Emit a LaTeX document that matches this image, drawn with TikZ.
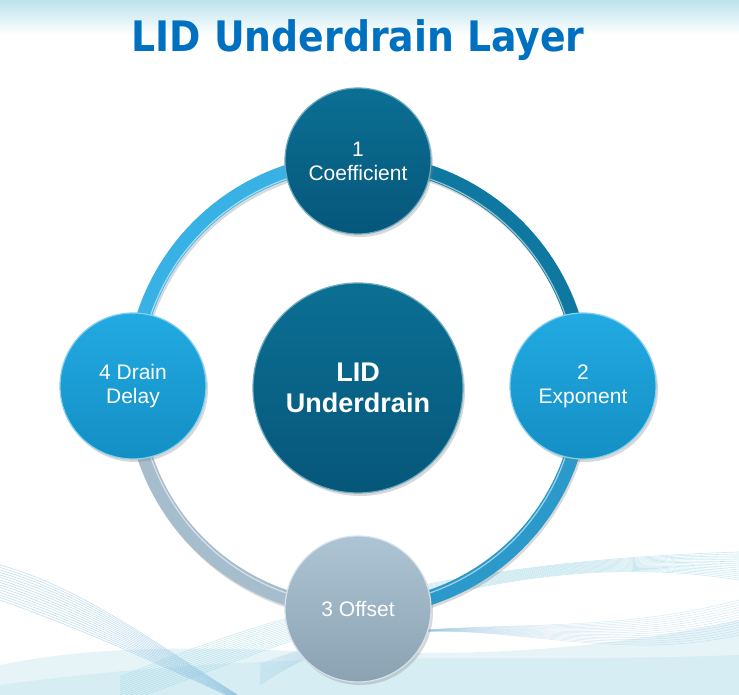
\documentclass[tikz,border=0pt]{standalone}
\usepackage{fontspec}
\setmainfont{Liberation Sans}
\newfontfamily\titlefont{DejaVu Sans Condensed}
\usetikzlibrary{shadows}

\definecolor{titleblue}{HTML}{0070C0}
\definecolor{tealtop}{HTML}{0B6F94}
\definecolor{tealbot}{HTML}{06577A}
\definecolor{skytop}{HTML}{22AAE2}
\definecolor{skybot}{HTML}{138FC4}
\definecolor{greytop}{HTML}{ADC4D4}
\definecolor{greybot}{HTML}{8BA2B3}
\definecolor{wavea}{HTML}{7FB8DE}
\definecolor{waveb}{HTML}{8FD0E0}

\pgfdeclarelayer{bg}
\pgfdeclarelayer{ring}
\pgfsetlayers{bg,ring,main}

\def\ringr{225}
\def\satsize{146}

\tikzset{
  sat/.style={circle, minimum size=\satsize, inner sep=0, align=center,
    text=white, font=\fontsize{21}{24}\selectfont,
    line width=1.2, drop shadow={opacity=0.3, shadow xshift=2, shadow yshift=-3}},
  tealball/.style={sat, top color=tealtop, bottom color=tealbot, draw=tealtop!60!white},
  skyball/.style={sat, top color=skytop, bottom color=skybot, draw=skytop!55!white},
  greyball/.style={sat, top color=greytop, bottom color=greybot, draw=greytop!50!white},
  ringarc/.style={line width=15, line cap=butt},
  ringshade/.style={line width=15, line cap=butt, draw=black, opacity=0.15,
    transform canvas={xshift=1.5, yshift=-2.5}},
}

\begin{document}
\begin{tikzpicture}[x=1pt, y=1pt]
  \useasboundingbox (0,0) rectangle (739,695);

  % background: top band and waves
  \begin{pgfonlayer}{bg}
    \fill[white] (0,0) rectangle (739,695);
    \shade[top color=waveb!60!white, bottom color=white] (0,660) rectangle (739,695);
    \begin{scope}
      \clip (0,0) rectangle (739,695);
      \fill[waveb, opacity=0.22] (0,0) -- (0,30) .. controls (220,75) and (420,5) .. (739,75) -- (739,0) -- cycle;
      \fill[waveb, opacity=0.18] (0,0) -- (0,10) .. controls (300,50) and (480,30) .. (739,40) -- (739,0) -- cycle;
      \foreach \i in {0,...,14}{
        \draw[wavea, opacity=0.45, line width=0.6]
          (0, 130-2.5*\i) .. controls (90, 105-3*\i) and (170, 40-\i) .. (270, -20);
        \draw[waveb, opacity=0.45, line width=0.6]
          (120, -10+2*\i) .. controls (330, 70+2.5*\i) and (520, 150-\i) .. (739, 115+2*\i);
        \draw[wavea, opacity=0.3, line width=0.5]
          (260, 10+1.5*\i) .. controls (420, 120-2*\i) and (560, 20+2*\i) .. (739, 60+2.5*\i);
      }
    \end{scope}
  \end{pgfonlayer}

  % title
  \node[text=titleblue, font=\titlefont\bfseries\fontsize{42}{44}\selectfont]
    (title) at (358,655) {LID Underdrain Layer};

  % cycle nodes
  \node[tealball, minimum size=210, font=\bfseries\fontsize{27}{31}\selectfont]
    (hub) at (358,307) {LID\\Underdrain};
  \node[tealball] (coef) at (358,534) {1\\Coefficient};
  \node[skyball] (expo) at (583,309) {2\\Exponent};
  \node[greyball] (offset) at (358,86) {3 Offset};
  \node[skyball] (delay) at (133,309) {4 Drain\\Delay};

  % ring
  \begin{pgfonlayer}{ring}
    \foreach \a/\b in {coef/expo, expo/offset, offset/delay, delay/coef}
      \draw[ringshade] (\a.center) to[bend left=45] (\b.center);
    \draw[ringarc, draw=tealtop!85!skytop] (coef.center) to[bend left=45] (expo.center);
    \draw[ringarc, draw=skybot!90!white] (expo.center) to[bend left=45] (offset.center);
    \draw[ringarc, draw=greytop!80!greybot] (offset.center) to[bend left=45] (delay.center);
    \draw[ringarc, draw=skytop!90!white] (delay.center) to[bend left=45] (coef.center);
    \draw[white, opacity=0.55, line width=1.2] (358,309) circle (\ringr-6);
  \end{pgfonlayer}
\end{tikzpicture}
\end{document}
